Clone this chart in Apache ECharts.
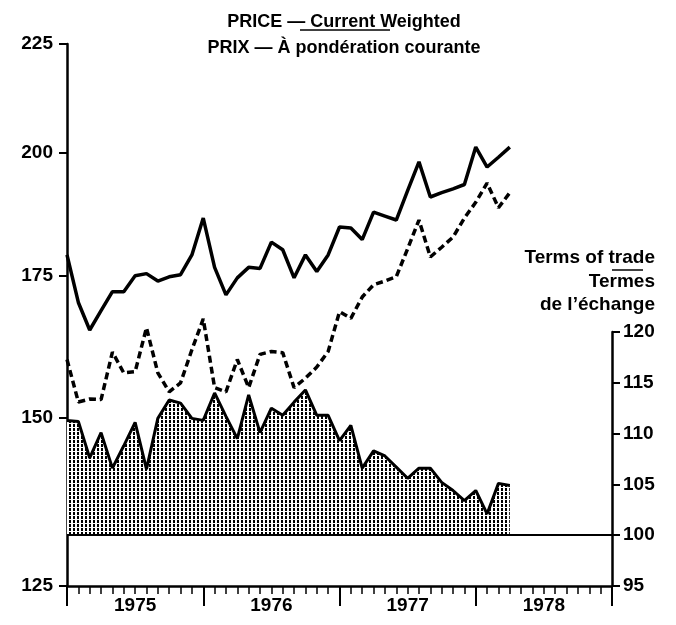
<!DOCTYPE html>
<html>
<head>
<meta charset="utf-8">
<script src="https://cdn.jsdelivr.net/npm/echarts@6/dist/echarts.min.js"></script>
<style>
  html, body { margin: 0; background: #fff; }
  #chart { width: 676px; height: 625px; }
</style>
</head>
<body>
<div id="chart"></div>
<script>
// 年份标签
const years = [1975, 1976, 1977, 1978];
// 左轴刻度（对数）
const priceTicks = [125, 150, 175, 200, 225];
// 右轴刻度
const termsTicks = [95, 100, 105, 110, 115, 120];
// 月度数据：1975年1月 - 1978年4月
const currentWeighted = [
  179, 170, 165, 168.5, 172, 172, 175, 175.4, 174, 174.8, 175.2, 179,
  186.3, 176.6, 171.4, 174.6, 176.6, 176.4, 181.5, 180, 174.6, 179, 175.8, 179,
  184.5, 184.3, 182, 187.5, 186.7, 185.9, 191.9, 198, 190.6, 191.5, 192.3, 193.2,
  201.2, 196.9, 199, 201.2,
];
const dashedPrice = [
  159.8, 152.6, 153.1, 153, 161.1, 157.5, 157.7, 165.4, 157.5, 154.3, 155.8, 161.5,
  167, 155, 154.3, 159.8, 155, 160.7, 161.2, 161, 155, 156.6, 158.5, 161.2,
  168.3, 167.1, 171, 173.3, 174, 174.8, 180.2, 185.9, 178.6, 180.5, 182.5, 186.3,
  189.5, 193.5, 188.4, 191.5,
];
const termsOfTrade = [
  111.3, 111.2, 107.6, 110.1, 106.6, 108.8, 111.1, 106.5, 111.5, 113.3, 113, 111.5,
  111.3, 114, 111.7, 109.5, 113.8, 110.1, 112.5, 111.8, 113.1, 114.3, 111.8, 111.8,
  109.3, 110.8, 106.6, 108.3, 107.8, 106.7, 105.6, 106.6, 106.6, 105.2, 104.4, 103.4,
  104.4, 102.1, 105.1, 104.9,
];

(() => {
  configPriceChart();
})();

// 点状填充图案
function makeDotPattern() {
  const canvas = document.createElement("canvas");
  canvas.width = 4;
  canvas.height = 4;
  const ctx = canvas.getContext("2d");
  ctx.fillStyle = "#fff";
  ctx.fillRect(0, 0, 4, 4);
  ctx.fillStyle = "#000";
  ctx.fillRect(1, 0, 2, 3);
  return canvas;
}

function configPriceChart() {
  const chart = echarts.init(document.getElementById("chart"));
  const font = "Liberation Sans";
  const toPoints = (list) => list.map((v, i) => [i, v]);
  const labelStyle = {
    fontFamily: font,
    fontWeight: "bold",
    fontSize: 19,
    color: "#000",
  };
  const sideText = (text, y) => ({
    type: "text",
    x: 655,
    y: y,
    style: {
      text: text,
      font: "bold 19px " + font,
      fill: "#000",
      textAlign: "right",
      textVerticalAlign: "middle",
    },
  });

  const option = {
    animation: false,
    title: {
      text: "PRICE — Current Weighted",
      subtext: "PRIX — À pondération courante",
      left: 339,
      top: 7,
      textAlign: "center",
      itemGap: 6,
      textStyle: { fontFamily: font, fontWeight: "bold", fontSize: 18, lineHeight: 20, color: "#000" },
      subtextStyle: { fontFamily: font, fontWeight: "bold", fontSize: 18, lineHeight: 20, color: "#000" },
    },
    graphic: [
      // 标题下划线
      { type: "line", shape: { x1: 300, y1: 30, x2: 390, y2: 30 }, style: { stroke: "#000", lineWidth: 1.5 } },
      sideText("Terms of trade", 258),
      sideText("Termes", 282),
      sideText("de l’échange", 305),
      { type: "line", shape: { x1: 612, y1: 270, x2: 643, y2: 270 }, style: { stroke: "#000", lineWidth: 1.5 } },
    ],
    grid: [
      { left: 67, right: 64, top: 44, bottom: 39 },
      { left: 67, right: 64, top: 332, bottom: 39 },
      // 轴线下方 8px 高的窄条，用分隔线画月度短刻度
      { left: 67, right: 64, top: 586, bottom: 31 },
    ],
    xAxis: [
      {
        // 主 x 轴：轴线 + 年份标签
        type: "value",
        gridIndex: 0,
        position: "bottom",
        min: 0,
        max: 48,
        interval: 12,
        splitLine: { show: false },
        axisLine: { onZero: false, lineStyle: { color: "#000", width: 2.5 } },
        axisTick: { show: false },
        axisLabel: {
          ...labelStyle,
          customValues: [6, 18, 30, 42],
          formatter: (v) => String(years[Math.floor(v / 12)]),
          margin: 10,
        },
      },
      {
        // 年度长刻度
        type: "value",
        gridIndex: 1,
        position: "bottom",
        min: 0,
        max: 48,
        interval: 12,
        splitLine: { show: false },
        axisLine: { show: false, onZero: false },
        axisTick: { show: true, length: 20, lineStyle: { color: "#000", width: 2 } },
        axisLabel: { show: false },
      },
      {
        // 月度短刻度
        type: "value",
        gridIndex: 2,
        min: 0,
        max: 48,
        interval: 1,
        axisLine: { show: false, onZero: false },
        axisTick: { show: false },
        axisLabel: { show: false },
        splitLine: { show: true, lineStyle: { color: "#000", width: 1.5, type: "solid" } },
      },
    ],
    yAxis: [
      {
        type: "log",
        logBase: 10,
        gridIndex: 0,
        min: 125,
        max: 225,
        splitLine: { show: false },
        axisLine: { show: true, onZero: false, lineStyle: { color: "#000", width: 2.5 } },
        axisTick: { show: true, customValues: priceTicks, length: 8, lineStyle: { color: "#000", width: 2 } },
        axisLabel: { ...labelStyle, customValues: priceTicks, margin: 14 },
      },
      {
        type: "value",
        gridIndex: 1,
        position: "right",
        min: 95,
        max: 120,
        interval: 5,
        splitLine: { show: false },
        axisLine: { show: true, onZero: false, lineStyle: { color: "#000", width: 2.5 } },
        axisTick: { show: true, length: 8, lineStyle: { color: "#000", width: 2 } },
        axisLabel: { ...labelStyle, customValues: termsTicks, margin: 11 },
      },
      {
        type: "value",
        gridIndex: 2,
        min: 0,
        max: 1,
        axisLine: { show: false },
        axisTick: { show: false },
        axisLabel: { show: false },
        splitLine: { show: false },
      },
    ],
    series: [
      {
        name: "Terms of trade",
        type: "line",
        xAxisIndex: 1,
        yAxisIndex: 1,
        data: toPoints(termsOfTrade),
        symbol: "none",
        lineStyle: { color: "#000", width: 3 },
        areaStyle: {
          origin: 100,
          opacity: 1,
          color: { image: makeDotPattern(), repeat: "repeat" },
        },
        markLine: {
          silent: true,
          symbol: ["none", "none"],
          label: { show: false },
          lineStyle: { color: "#000", width: 2, type: "solid" },
          data: [{ yAxis: 100 }],
        },
        z: 1,
      },
      {
        name: "Current weighted",
        type: "line",
        xAxisIndex: 0,
        yAxisIndex: 0,
        data: toPoints(currentWeighted),
        symbol: "none",
        lineStyle: { color: "#000", width: 3.5 },
        z: 3,
      },
      {
        name: "Dashed price",
        type: "line",
        xAxisIndex: 0,
        yAxisIndex: 0,
        data: toPoints(dashedPrice),
        symbol: "none",
        lineStyle: { color: "#000", width: 3.5, type: [7, 4] },
        z: 3,
      },
    ],
  };
  chart.setOption(option);
}
</script>
</body>
</html>
